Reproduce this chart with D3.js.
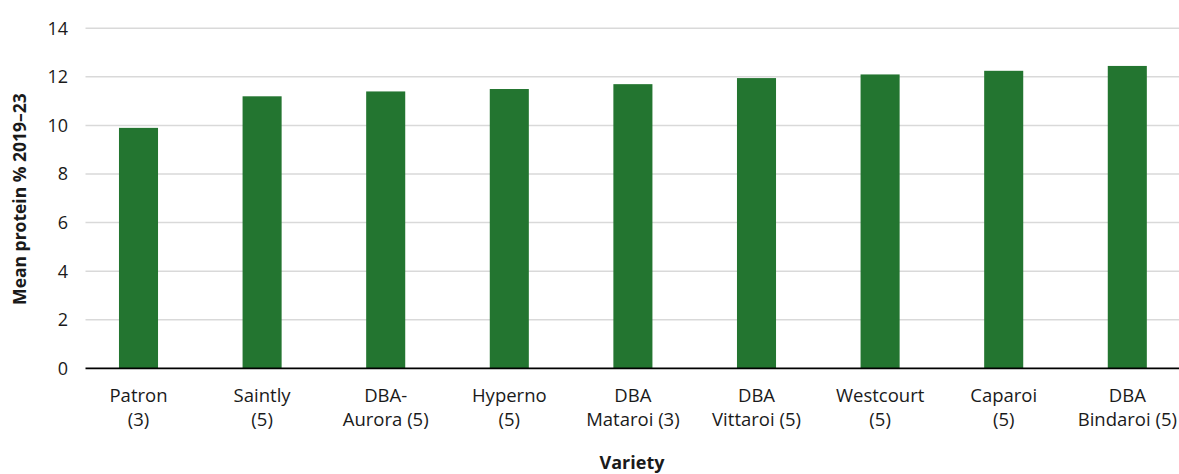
<!DOCTYPE html>
<html>
<head>
<meta charset="utf-8">
<script src="https://cdn.jsdelivr.net/npm/d3@7"></script>
<style>
  html, body { margin: 0; padding: 0; background: #fff; }
  svg { display: block; font-family: "Open Sans", "Noto Sans", sans-serif; }
</style>
</head>
<body>
<svg id="chart" width="1179" height="474"></svg>
<script>
// Varieties (number of years in brackets) and their mean protein %
const varieties = [
  ["Patron", "(3)"],
  ["Saintly", "(5)"],
  ["DBA-", "Aurora (5)"],
  ["Hyperno", "(5)"],
  ["DBA", "Mataroi (3)"],
  ["DBA", "Vittaroi (5)"],
  ["Westcourt", "(5)"],
  ["Caparoi", "(5)"],
  ["DBA", "Bindaroi (5)"]
];
const meanProtein = [9.9, 11.2, 11.4, 11.5, 11.7, 11.95, 12.1, 12.25, 12.45];
const yTicks = [0, 2, 4, 6, 8, 10, 12, 14];

const svg = d3.select("#chart");
const plotLeft = 85.5, plotRight = 1179, plotTop = 28.3, plotBottom = 368.3;

const keys = varieties.map((v, i) => i);
const x = d3.scaleBand()
  .domain(keys)
  .range([76.7, 76.7 + 9 * 123.6])
  .paddingInner(0.684)
  .paddingOuter(0.342);

const y = d3.scaleLinear().domain([0, 14]).range([plotBottom, plotTop]);

// horizontal gridlines
svg.append("g")
  .selectAll("line")
  .data(yTicks.filter(t => t > 0))
  .join("line")
  .attr("x1", plotLeft).attr("x2", plotRight)
  .attr("y1", d => y(d)).attr("y2", d => y(d))
  .attr("stroke", "#d9d9d9")
  .attr("stroke-width", 1.5);

// y tick labels
svg.append("g")
  .selectAll("text")
  .data(yTicks)
  .join("text")
  .attr("x", 68)
  .attr("y", d => y(d))
  .attr("dy", "0.36em")
  .attr("text-anchor", "end")
  .attr("font-size", 18)
  .attr("fill", "#1a1a1a")
  .text(d => d);

// bars
svg.append("g")
  .selectAll("rect")
  .data(meanProtein)
  .join("rect")
  .attr("x", (d, i) => x(i))
  .attr("width", x.bandwidth())
  .attr("y", d => y(d))
  .attr("height", d => y(0) - y(d))
  .attr("fill", "#237530");

// baseline
svg.append("line")
  .attr("x1", plotLeft).attr("x2", plotRight)
  .attr("y1", y(0)).attr("y2", y(0))
  .attr("stroke", "#000")
  .attr("stroke-width", 1.8);

// category labels on two lines
const cat = svg.append("g")
  .selectAll("text")
  .data(varieties)
  .join("text")
  .attr("text-anchor", "middle")
  .attr("font-size", 18.5)
  .attr("fill", "#1a1a1a")
  .attr("transform", (d, i) => `translate(${x(i) + x.bandwidth() / 2},0)`);
cat.append("tspan").attr("x", 0).attr("y", 402).text(d => d[0]);
cat.append("tspan").attr("x", 0).attr("y", 425.5).text(d => d[1]);

// axis titles
svg.append("text")
  .attr("x", 632)
  .attr("y", 469)
  .attr("text-anchor", "middle")
  .attr("font-size", 18)
  .attr("font-weight", "bold")
  .attr("fill", "#1a1a1a")
  .text("Variety");

svg.append("text")
  .attr("transform", `translate(25.5,${199}) rotate(-90)`)
  .attr("text-anchor", "middle")
  .attr("font-size", 17.5)
  .attr("font-weight", "bold")
  .attr("fill", "#1a1a1a")
  .text("Mean protein % 2019–23");
</script>
</body>
</html>
